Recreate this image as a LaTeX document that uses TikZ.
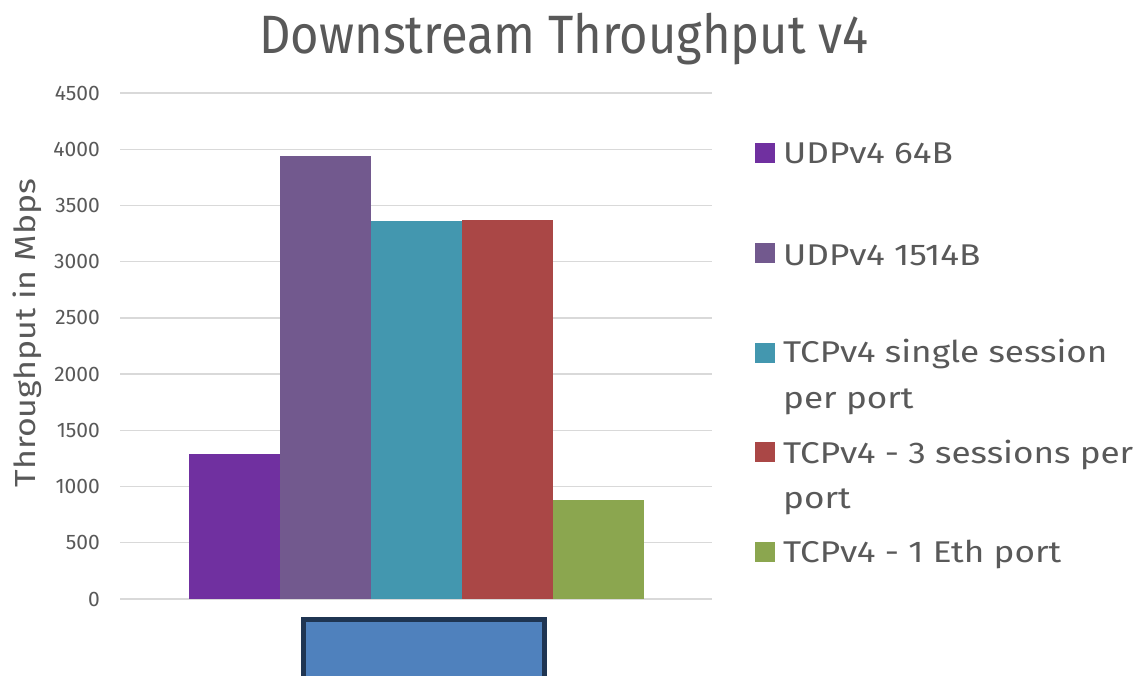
\documentclass[tikz,border=0pt]{standalone}
\usepackage{fontspec}
\usepackage{graphicx}
\setmainfont{Fira Sans}
\definecolor{txtgray}{RGB}{89,89,89}
\definecolor{gridgray}{RGB}{217,217,217}
\definecolor{cUdpS}{RGB}{112,48,160}
\definecolor{cUdpL}{RGB}{114,89,142}
\definecolor{cTcpA}{RGB}{67,151,175}
\definecolor{cTcpB}{RGB}{170,71,70}
\definecolor{cTcpC}{RGB}{139,166,79}
\definecolor{boxfill}{RGB}{79,129,189}
\definecolor{boxedge}{RGB}{31,53,82}
% widen running text a little, as in the chart's own typeface
\newcommand\wideset[1]{\scalebox{1.17}[1]{#1}}
\tikzset{
  gridline/.style={draw=gridgray, line width=1.4pt},
  ticklabel/.style={text=txtgray, font=\fontsize{21}{24}\selectfont, anchor=east, inner sep=0pt},
  legtext/.style={text=txtgray, font=\fontsize{30}{36}\selectfont, anchor=base west, inner sep=0pt},
  legkey/.style={minimum size=20pt, inner sep=0pt, anchor=north west}
}
\begin{document}
\begin{tikzpicture}[x=1pt,y=-1pt]
\useasboundingbox (0,0) rectangle (1143,675);
\fill[white] (0,0) rectangle (1143,675);

% title
\node[text=txtgray, font=\fontsize{54}{60}\selectfont, anchor=base] (title) at (564,53) {\scalebox{0.905}[1]{Downstream Throughput v4}};

% horizontal grid and value axis labels
\foreach \v in {0,500,...,4500}{
  \pgfmathsetmacro{\yy}{599-\v*0.11244}
  \draw[gridline] (120,\yy) -- (712,\yy);
  \node[ticklabel] (tick\v) at (100,\yy) {\v};
}

% axis title
\node[text=txtgray, font=\fontsize{29}{32}\selectfont, rotate=90] (ylab) at (27,333) {\wideset{Throughput in Mbps}};

% bars
\fill[cUdpS] (189,454) rectangle (280,599);
\fill[cUdpL] (280,156) rectangle (371,599);
\fill[cTcpA] (371,221) rectangle (462,599);
\fill[cTcpB] (462,220) rectangle (553,599);
\fill[cTcpC] (553,500) rectangle (644,599);

% category label box
\draw[fill=boxfill, draw=boxedge, line width=5pt] (303,619) rectangle (544,700);

% legend
\node[legkey, fill=cUdpS] (k1) at (755,143) {};
\node[legtext] (l1) at (783,163) {\wideset{UDPv4 64B}};
\node[legkey, fill=cUdpL] (k2) at (755,243) {};
\node[legtext] (l2) at (783,265) {\wideset{UDPv4 1514B}};
\node[legkey, fill=cTcpA] (k3) at (755,343) {};
\node[legtext] (l3) at (783,362) {\wideset{TCPv4 single session}};
\node[legtext] (l3b) at (783,408) {\wideset{per port}};
\node[legkey, fill=cTcpB] (k4) at (755,442) {};
\node[legtext] (l4) at (783,463) {\wideset{TCPv4 - 3 sessions per}};
\node[legtext] (l4b) at (783,508) {\wideset{port}};
\node[legkey, fill=cTcpC] (k5) at (755,542) {};
\node[legtext] (l5) at (783,562) {\wideset{TCPv4 - 1 Eth port}};
\end{tikzpicture}
\end{document}
